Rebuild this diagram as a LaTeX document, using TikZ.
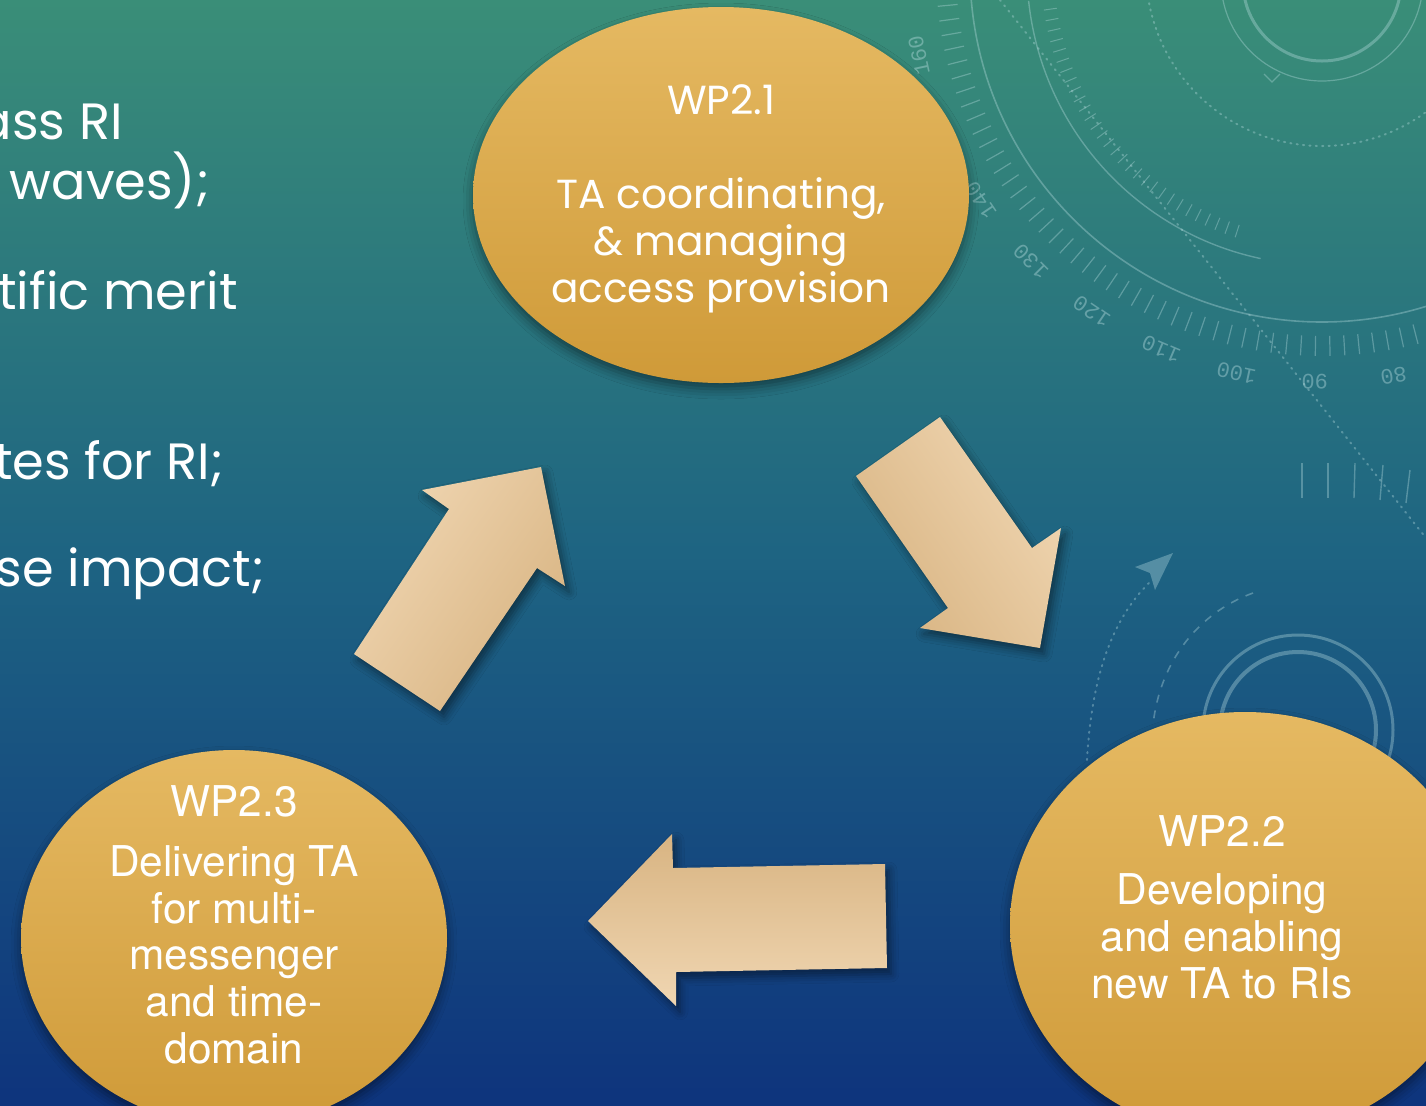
\documentclass[tikz,border=0pt]{standalone}
\usepackage{fontspec}
\setmainfont{TeX Gyre Heros}
\newfontfamily\gothic{Poppins}
\newfontfamily\monof{Liberation Mono}
\usetikzlibrary{shapes.geometric,shadows.blur,calc}
\definecolor{bgtop}{RGB}{58,142,120}
\definecolor{bgmid}{RGB}{30,100,130}
\definecolor{bgbot}{RGB}{14,52,125}
\definecolor{goldtop}{RGB}{229,185,98}
\definecolor{goldbot}{RGB}{207,154,56}
\definecolor{arrlight}{RGB}{240,214,178}
\definecolor{arrdark}{RGB}{216,180,130}
\definecolor{deco}{RGB}{190,225,228}
\tikzset{
  decoline/.style={draw=deco, draw opacity=0.35, fill opacity=0.35},
  dialnum/.style={text=deco, text opacity=0.4, font=\monof\fontsize{11}{11}\selectfont, inner sep=0},
  wpell/.style={ellipse, inner sep=0, top color=goldtop, bottom color=goldbot,
    blur shadow={shadow xshift=0pt, shadow yshift=-3pt, shadow blur radius=5pt, shadow opacity=45}},
  blockarrow/.style={blur shadow={shadow xshift=2pt, shadow yshift=-3pt, shadow blur radius=4pt, shadow opacity=45}},
  gtext/.style={text=white, align=center, inner sep=0, font=\gothic\fontsize{20.3}{23.5}\selectfont},
  htext/.style={text=white, align=center, inner sep=0, font=\fontsize{21.2}{23.3}\selectfont},
  lefttext/.style={text=white, inner sep=0, anchor=base east, font=\gothic\fontsize{25.5}{30}\selectfont}
}
\begin{document}
\begin{tikzpicture}[x=0.5pt,y=-0.5pt]
\useasboundingbox (0,0) rectangle (1426,1105);
\begin{scope}
\clip (0,0) rectangle (1426,1105);
\shade[top color=bgtop, bottom color=bgbot, middle color=bgmid] (0,0) rectangle (1426,1105);
% ---- background dial decoration ----
\coordinate (dc) at (1322,-30);
\begin{scope}[decoline]
  \draw[line width=1.5pt] (1322,-18) circle [radius=79];
  \draw[line width=0.6pt] (1322,-20) circle [radius=101];
  \draw[line width=1pt, dash pattern=on 0.6pt off 2.6pt, line cap=round] (dc) circle [radius=176];
  \draw[line width=0.7pt] ($(dc)+(174:295)$) arc [start angle=174, end angle=102, radius=295];
  \draw[line width=0.8pt] (dc) circle [radius=352];
  \foreach \v in {60,62,...,180}{
    \pgfmathsetmacro\ph{91+1.1*(\v-90)}
    \draw[line width=0.6pt] ($(dc)+(\ph:366)$) -- ($(dc)+(\ph:386)$);
  }
  \foreach \ph in {108,110.2,...,172}{
    \draw[line width=0.5pt] ($(dc)+(\ph:268)$) -- ($(dc)+(\ph:281)$);
  }
  \draw[line width=0.6pt] (1264,74) -- (1272,82) -- (1280,74);
  \draw[line width=1pt, dash pattern=on 0.6pt off 2.8pt, line cap=round] (1000,0) -- (1426,538);
  \draw[line width=0.7pt] (1302,463) -- (1302,498);
  \draw[line width=0.7pt] (1328,463) -- (1328,498);
  \draw[line width=0.7pt] (1355,463) -- (1354,498);
  \draw[line width=0.7pt] (1383,465) -- (1380,500);
  \draw[line width=0.7pt] (1410,470) -- (1406,503);
  \draw[line width=1pt, dash pattern=on 0.6pt off 2.8pt, line cap=round] (1087,760) .. controls (1092,670) and (1115,615) .. (1152,580);
  \fill[deco, fill opacity=0.35] (1173,553) -- (1135,567) -- (1150,573) -- (1155,590) -- cycle;
  \draw[line width=0.8pt, dash pattern=on 4pt off 4pt] (1253,593) .. controls (1200,612) and (1160,660) .. (1153,725);
  \draw[line width=1.5pt] (1298,730) circle [radius=95];
  \draw[line width=2pt] (1298,730) circle [radius=78];
  \foreach \v in {80,90,...,170}{
    \pgfmathsetmacro\ph{91+1.1*(\v-90)}
    \pgfmathsetmacro\rt{-\ph-90}
    \node[dialnum, rotate=\rt] (n\v) at ($(dc)+(\ph:412)$) {\v};
  }
\end{scope}
% ---- left text fragments ----
\node[lefttext] (l1) at (123,139) {ass RI};
\node[lefttext] (l2) at (210,199) {waves);};
\node[lefttext] (l3) at (238,309) {tific merit};
\node[lefttext] (l4) at (224,479) {tes for RI;};
\node[lefttext] (l5) at (265,586) {se impact;};
% ---- block arrows ----
\shade[blockarrow, left color=arrlight, right color=arrdark, shading angle=55]
  (354,654) -- (449,509) -- (422,490) -- (541,467) -- (565,586) -- (537,568) -- (440,711) -- cycle;
\shade[blockarrow, left color=arrdark, right color=arrlight, shading angle=125]
  (856,476) -- (940,417) -- (1032,548) -- (1061,528) -- (1040,648) -- (920,628) -- (948,608) -- cycle;
\shade[blockarrow, top color=arrdark, bottom color=arrlight]
  (588,921) -- (672,834) -- (673,868) -- (885,864) -- (887,968) -- (676,972) -- (676,1006) -- cycle;
% ---- work package ellipses ----
\node[wpell, minimum width=248pt, minimum height=188pt] (e1) at (721,195) {};
\node[wpell, minimum width=213pt, minimum height=188pt] (e3) at (234,938) {};
\node[wpell, minimum width=235pt, minimum height=213pt] (e2) at (1245,925) {};
\node[gtext, anchor=base] (t1) at (721,302) {WP2.1\\[23.5pt]TA coordinating,\\\& managing\\access provision};
\node[htext, anchor=base] (t3) at (234,1063) {WP2.3\\[7pt]Delivering TA\\for multi-\\messenger\\and time-\\domain};
\node[htext, anchor=base] (t2) at (1222,998) {WP2.2\\[6pt]Developing\\and enabling\\new TA to RIs};
\end{scope}
\end{tikzpicture}
\end{document}
